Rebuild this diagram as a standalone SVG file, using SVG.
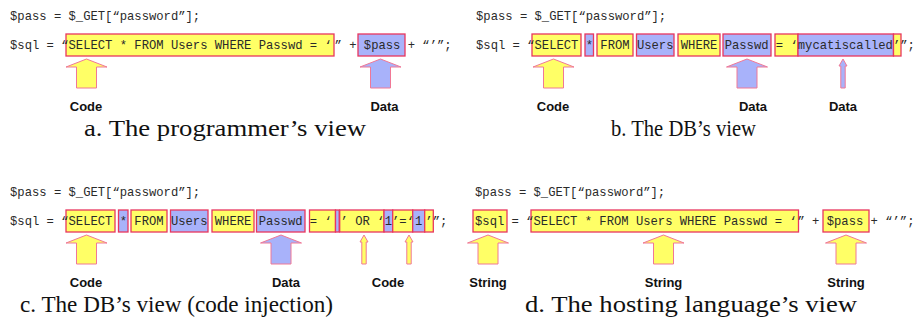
<svg xmlns="http://www.w3.org/2000/svg" width="916" height="329" viewBox="0 0 916 329">
<style>
.code{font-family:"Liberation Mono","Courier New",monospace;font-size:12.2px;fill:#2a2a2a}
.lbl{font-family:"Liberation Sans",Arial,sans-serif;font-weight:bold;font-size:13px;fill:#111;text-anchor:middle}
.cap{font-family:"Liberation Serif","Times New Roman",serif;font-size:23px;fill:#111;text-anchor:middle}
.y{fill:#FFFF66;stroke:#E8365F;stroke-width:1.3}
.b{fill:#A8B2FA;stroke:#E8365F;stroke-width:1.3}
.ya{fill:#FFFF66;stroke:#F07896;stroke-width:1}
.ba{fill:#A8B2FA;stroke:#F07896;stroke-width:1}
</style>
<defs>
<path id="big" d="M0,0 L20.5,8 L10,8 L10,29 L-10,29 L-10,8 L-20.5,8 Z"/>
<path id="small" d="M0,0 L4,7 L2.2,7 L2.2,29 L-2.2,29 L-2.2,7 L-4,7 Z"/>
</defs>
<rect width="916" height="329" fill="#fff"/>

<g id="panel-a">
  <text class="code" x="10" y="20">$pass = $_GET[“password”];</text>
  <g id="a-code-box"><rect class="y" x="66" y="34" width="268" height="22"/></g>
  <g id="a-data-box"><rect class="b" x="358" y="34" width="47" height="22"/></g>
  <text class="code" x="10" y="49">$sql = “SELECT * FROM Users WHERE Passwd = ‘<tspan x="334.5">”</tspan><tspan x="341.9"> + $pass + “’”;</tspan></text>
  <text class="lbl" x="86" y="111">Code</text>
  <text class="lbl" x="384.5" y="111">Data</text>
  <text class="cap" x="225" y="136" textLength="282" lengthAdjust="spacingAndGlyphs">a. The programmer’s view</text>
</g>

<g id="panel-b">
  <text class="code" x="476" y="20">$pass = $_GET[“password”];</text>
  <g id="b-boxes">
    <rect class="y" x="532" y="34" width="49" height="22"/>
    <rect class="b" x="585" y="34" width="8.5" height="22"/>
    <rect class="y" x="597" y="34" width="36" height="22"/>
    <rect class="b" x="636.5" y="34" width="37.5" height="22"/>
    <rect class="y" x="678" y="34" width="42" height="22"/>
    <rect class="b" x="723" y="34" width="48" height="22"/>
    <rect class="y" x="775" y="34" width="23" height="22"/>
    <rect class="b" x="798" y="34" width="95.5" height="22"/>
    <rect class="y" x="893.5" y="34" width="7.5" height="22"/>
  </g>
  <text class="code" x="476" y="49">$sql = “SELECT * FROM Users WHERE Passwd = ‘mycatiscalled’”;</text>
  <text class="lbl" x="553" y="111">Code</text>
  <text class="lbl" x="753" y="111">Data</text>
  <text class="lbl" x="843" y="111">Data</text>
  <text class="cap" x="683.5" y="136" textLength="145" lengthAdjust="spacingAndGlyphs">b. The DB’s view</text>
</g>

<g id="panel-c">
  <text class="code" x="10" y="196">$pass = $_GET[“password”];</text>
  <g id="c-boxes">
    <rect class="y" x="66" y="210" width="49" height="22"/>
    <rect class="b" x="118.5" y="210" width="9.5" height="22"/>
    <rect class="y" x="131" y="210" width="36" height="22"/>
    <rect class="b" x="170.5" y="210" width="37.5" height="22"/>
    <rect class="y" x="212" y="210" width="42" height="22"/>
    <rect class="b" x="256.5" y="210" width="48.5" height="22"/>
    <rect class="y" x="309.5" y="210" width="26" height="22"/>
    <rect class="b" x="335.5" y="210" width="3.7" height="22"/>
    <rect class="y" x="339.7" y="210" width="44.3" height="22"/>
    <rect class="b" x="384" y="210" width="8.7" height="22"/>
    <rect class="y" x="392.7" y="210" width="20" height="22"/>
    <rect class="b" x="412.7" y="210" width="12" height="22"/>
    <rect class="y" x="424.7" y="210" width="8.6" height="22"/>
  </g>
  <text class="code" x="10" y="225">$sql = “SELECT * FROM Users WHERE Passwd = ‘</text>
  <text class="code" y="225"><tspan x="340.5">’ OR ‘</tspan><tspan x="384.7">1</tspan><tspan x="392">’=‘</tspan><tspan x="415">1</tspan><tspan x="425.3">’</tspan><tspan x="432.8">”;</tspan></text>
  <text class="lbl" x="86" y="287">Code</text>
  <text class="lbl" x="286" y="287">Data</text>
  <text class="lbl" x="388" y="287">Code</text>
  <text class="cap" x="176.5" y="312" textLength="313" lengthAdjust="spacingAndGlyphs">c. The DB’s view (code injection)</text>
</g>

<g id="panel-d">
  <text class="code" x="475" y="196">$pass = $_GET[“password”];</text>
  <g id="d-boxes">
    <rect class="y" x="473" y="210" width="34" height="22"/>
    <rect class="y" x="531" y="210" width="267.5" height="22"/>
    <rect class="y" x="823" y="210" width="46" height="22"/>
  </g>
  <text class="code" x="475" y="225">$sql = “SELECT * FROM Users WHERE Passwd = ‘<tspan x="797.5">”</tspan><tspan x="804.8"> + $pass + “’”;</tspan></text>
  <text class="lbl" x="488" y="287">String</text>
  <text class="lbl" x="663.5" y="287">String</text>
  <text class="lbl" x="846" y="287">String</text>
  <text class="cap" x="691" y="312" textLength="332" lengthAdjust="spacingAndGlyphs">d. The hosting language’s view</text>
</g>

<g id="arrows">
  <use href="#big" class="ya" transform="translate(86.5,59)"/>
  <use href="#big" class="ba" transform="translate(380.5,59)"/>
  <use href="#big" class="ya" transform="translate(553.5,59)"/>
  <use href="#big" class="ba" transform="translate(747,59)"/>
  <use href="#small" class="ba" transform="translate(843,59)"/>
  <use href="#big" class="ya" transform="translate(86.5,235)"/>
  <use href="#big" class="ba" transform="translate(281,235)"/>
  <use href="#small" class="ya" transform="translate(364,235)"/>
  <use href="#small" class="ya" transform="translate(409,235)"/>
  <use href="#big" class="ya" transform="translate(488,235)"/>
  <use href="#big" class="ya" transform="translate(663.5,235)"/>
  <use href="#big" class="ya" transform="translate(846,235)"/>
</g>
</svg>
